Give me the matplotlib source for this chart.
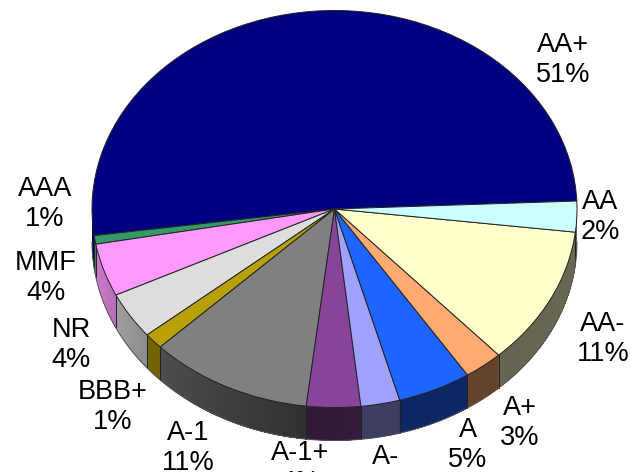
import matplotlib
matplotlib.use('Agg')
import matplotlib.pyplot as plt
import numpy as np

plt.rcParams['font.family'] = ['Liberation Sans', 'DejaVu Sans']

# slices, going round from the AA+ edge on the right
ratings = ['AA+', 'AAA', 'MMF', 'NR', 'BBB+', 'A-1', 'A-1+', 'A-', 'A', 'A+', 'AA-', 'AA']
shares = [51.5, 0.7, 4.3, 3.8, 1.3, 10.9, 3.6, 2.6, 4.9, 2.6, 11.3, 2.5]
shown_pct = ['51%', '1%', '4%', '4%', '1%', '11%', '4%', '3%', '5%', '3%', '11%', '2%']
colors = ['#000080', '#339966', '#FF99FF', '#DDDDDD', '#B8A008', '#808080',
          '#884499', '#A0A0FF', '#1E64FF', '#FFAA70', '#FFFFCC', '#CCFFFF']

# where the labels sit, in pixels from the top left
label_x = [563, 45, 46, 71, 113, 188, 300, 386, 468, 520, 603, 600]
label_y = [60.5, 204, 278, 345, 407, 447.5, 468, 472, 445, 423, 339, 217]

W, H = 631, 472
cx, cy = 334.5, 209
rx, ry = 242.5, 198.5
depth = 33 / ry

fig = plt.figure(figsize=(W / 100, H / 100), dpi=100)
ax = fig.add_axes([0, 0, 1, 1])

wedges, _ = ax.pie(shares, colors=colors, startangle=2.3, counterclock=True,
                   wedgeprops={'edgecolor': '#222222', 'linewidth': 0.7, 'zorder': 5})
ax.set_aspect('auto')
ax.set_xlim(-cx / rx, (W - cx) / rx)
ax.set_ylim(-(H - cy) / ry, cy / ry)
ax.axis('off')


def side_shade(angle):
    # lighter on the left of the wall, flat from the front round to the right
    return np.interp(angle, [-190, -165, -135, -97, 0], [0.8, 0.78, 0.6, 0.38, 0.41])


# side wall, only the lower half of the ellipse can show
for wedge, color in zip(wedges, colors):
    t1, t2 = wedge.theta1, wedge.theta2
    if t1 < 180 < t2:
        # AA+ crosses the left end, only its part below the middle has a wall
        start, end = -180, t2 - 360
    else:
        if t1 >= 180:
            t1 -= 360
            t2 -= 360
        start, end = max(t1, -180), min(t2, 0)
    if start >= end:
        continue
    base = np.array(matplotlib.colors.to_rgb(color))
    edges = np.linspace(start, end, max(int(end - start), 2) + 1)
    # each piece runs to the end of the slice so no seams show between them
    for a in edges[:-1]:
        t = np.radians(np.linspace(a, end, 30))
        x = np.cos(t)
        y = np.sin(t)
        ax.fill(np.r_[x, x[::-1]], np.r_[y, y[::-1] - depth], color=base * side_shade(a), lw=0, zorder=2)
    # dividing lines on the wall
    for a in (start, end):
        if -178 < a < -2:
            r = np.radians(a)
            ax.plot([np.cos(r)] * 2, [np.sin(r), np.sin(r) - depth], color='#222222', lw=0.7, zorder=3)

# outline of the wall bottom
t = np.radians(np.linspace(-180, 0, 200))
ax.plot(np.cos(t), np.sin(t) - depth, color='#555555', lw=0.7, zorder=3)

for name, pct, x, y in zip(ratings, shown_pct, label_x, label_y):
    ax.text((x - cx) / rx, (cy - y) / ry, name + '\n' + pct, fontsize=19.5, ha='center', va='center',
            linespacing=1.2, color='black', zorder=6, clip_on=False)

fig.savefig('out.png', dpi=100)
